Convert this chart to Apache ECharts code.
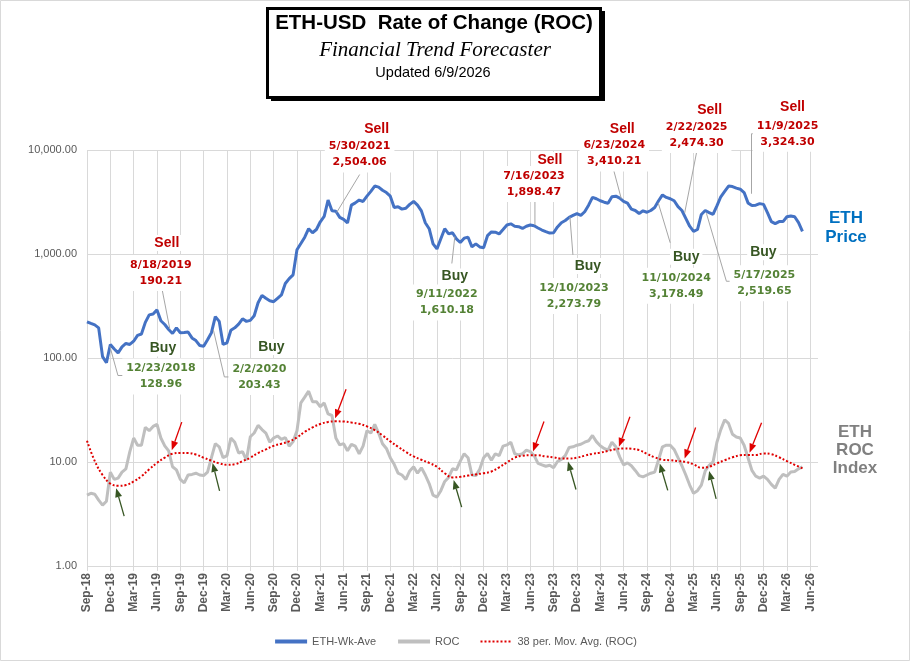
<!DOCTYPE html>
<html>
<head>
<meta charset="utf-8">
<title>ETH-USD Rate of Change (ROC)</title>
<script src="https://cdn.jsdelivr.net/npm/echarts@6/dist/echarts.min.js"></script>
<style>
  html, body { margin: 0; padding: 0; background: #fff; }
  #chart { width: 910px; height: 661px; }
</style>
</head>
<body>
<div id="chart"></div>
<script>
// x axis tick labels, one per quarter (every 6 half-month slots)
const tickLabels = ['Sep-18', 'Dec-18', 'Mar-19', 'Jun-19', 'Sep-19', 'Dec-19', 'Mar-20', 'Jun-20',
  'Sep-20', 'Dec-20', 'Mar-21', 'Jun-21', 'Sep-21', 'Dec-21', 'Mar-22', 'Jun-22',
  'Sep-22', 'Dec-22', 'Mar-23', 'Jun-23', 'Sep-23', 'Dec-23', 'Mar-24', 'Jun-24',
  'Sep-24', 'Dec-24', 'Mar-25', 'Jun-25', 'Sep-25', 'Dec-25', 'Mar-26', 'Jun-26']

// ETH weekly average price, read twice a month from Sep 2018
const ethPrice = [
  223, 215, 208, 195, 103, 90, 135, 122, 112, 128,
  138, 135, 145, 165, 170, 220, 260, 265, 290, 228,
  210, 188, 172, 195, 175, 176, 178, 156, 147, 132,
  130, 150, 175, 250, 225, 135, 140, 185, 195, 212,
  238, 225, 230, 255, 340, 400, 375, 355, 348, 375,
  404, 520, 580, 630, 1100, 1260, 1450, 1750, 1600, 1720,
  2040, 2300, 3300, 2600, 2580, 2250, 2150, 1990, 2950, 3100,
  3300, 3200, 3600, 4000, 4500, 4400, 4100, 3900, 3600, 2800,
  2850, 2700, 2750, 3000, 3200, 2950, 2600, 2000, 1750, 1250,
  1120, 1400, 1750, 1560, 1600, 1400, 1290, 1420, 1450, 1170,
  1250, 1170, 1150, 1500, 1630, 1620, 1560, 1720, 1900, 1950,
  1850, 1830, 1760, 1850, 1900, 1870, 1780, 1700, 1640, 1590,
  1600, 1820, 2000, 2100, 2250, 2350, 2450, 2350, 2550, 2950,
  3500, 3400, 3250, 3150, 3080, 3550, 3600, 3440, 3200, 3080,
  2700, 2620, 2450, 2600, 2520, 2620, 2800, 3250, 3700, 3500,
  3400, 3250, 2850, 2620, 2200, 1850, 1650, 1720, 2400, 2620,
  2500, 2400, 2900, 3550, 4000, 4500, 4450, 4300, 4200, 3900,
  3100, 2920, 2950, 3050, 3000, 2500, 2050, 1960, 2050, 2050,
  2280, 2320, 2280, 2000, 1650
]

// rate of change index, same dates
const rocValues = [
  4.8, 5.0, 4.9, 4.3, 3.85, 4.2, 8.0, 6.8, 7.0, 8.0,
  8.6, 12.5, 17.0, 14.5, 14.5, 21.5, 20.0, 22.0, 23.0, 17.0,
  14.3, 12.8, 9.0, 8.4, 6.8, 6.3, 7.5, 7.6, 7.8, 7.5,
  7.4, 8.0, 11.0, 15.0, 14.0, 11.0, 11.5, 17.0, 15.5, 12.2,
  12.6, 10.4, 17.5, 19.0, 22.5, 20.5, 19.0, 15.5, 17.0, 17.8,
  16.5, 17.2, 14.2, 15.7, 20, 37, 42, 48, 38, 38,
  34, 37, 29, 28, 17, 14.6, 15, 12.8, 14.8, 14.2,
  12, 14.2, 20, 19, 23, 19, 15, 13.5, 11, 9.5,
  7.8, 7.5, 6.8, 8.2, 9.0, 7.8, 8.8, 7.5, 6.2, 4.8,
  4.6, 5.3, 6.5, 7.1, 8.6, 8.4, 10.2, 12.0, 11.0, 7.5,
  7.4, 8.5, 11.0, 12.1, 10.4, 12.0, 11.5, 14.2, 14.6, 15.5,
  12.0, 11.7, 12.0, 13.0, 12.6, 11.5, 9.7, 9.4, 9.1, 9.3,
  8.8, 10.1, 10.6, 11.5, 13.8, 14.0, 14.5, 14.8, 15.5, 16.0,
  18.0, 15.7, 14.3, 13.5, 13.0, 15.5, 14.0, 11.2, 9.4, 9.8,
  9.2, 8.3, 7.4, 7.2, 7.5, 7.8, 8.0, 10.5, 14.0, 14.5,
  14.5, 13.2, 11.0, 9.2, 7.5, 6.0, 5.0, 5.3, 6.0, 8.2,
  9.3, 10.0, 15.5, 20.5, 25.5, 23.5, 18.5, 17.4, 17.0, 14.5,
  11.0, 8.3, 7.3, 7.0, 7.3, 6.8, 6.1, 5.6, 6.8, 7.6,
  7.3, 8.0, 8.1, 8.6, 9.0
]

// 38 period moving average of ROC, one reading per month
const rocAvgMonthly = [
  16, 10.2, 7.5, 6.2, 5.9, 6.0, 6.5, 7.3, 8.5, 9.8,
  11.0, 12.0, 12.2, 12.2, 11.8, 11.0, 10.3, 9.7, 9.4, 9.5,
  10.2, 11.0, 12.2, 13.2, 14.3, 15.0, 15.8, 17.2, 19.5, 21.5,
  23.2, 24.3, 24.6, 24.5, 24.0, 23.3, 22.0, 20.3, 18.0, 15.8,
  14.0, 12.5, 11.3, 10.5, 9.8, 9.0, 7.8, 7.1, 7.2, 7.4,
  7.6, 7.8, 8.1, 8.9, 9.9, 11.0, 11.5, 11.6, 11.6, 11.3,
  11.1, 10.8, 10.8, 11.0, 11.5, 12.0, 12.3, 12.8, 13.3, 13.5,
  13.4, 13.0, 12.0, 11.1, 10.5, 10.4, 10.2, 10.0, 9.5, 8.8,
  9.0, 9.7, 10.4, 11.1, 11.6, 11.7, 11.7, 12.1, 11.9, 11.1,
  10.2, 9.4, 8.7
]

// signals: at = half-month slot, price = annotated value, roc = where the arrow points
const sellSignals = [
  { date: '8/18/2019', price: 190.21, label: '190.21', at: 21.3, arrowAt: 21.8, roc: 13.0 },
  { date: '5/30/2021', price: 2504.06, label: '2,504.06', at: 64.2, arrowAt: 63.8, roc: 26.3 },
  { date: '7/16/2023', price: 1898.47, label: '1,898.47', at: 115.2, arrowAt: 114.7, roc: 12.6 },
  { date: '6/23/2024', price: 3410.21, label: '3,410.21', at: 137.4, arrowAt: 136.8, roc: 14.0 },
  { date: '2/22/2025', price: 2474.30, label: '2,474.30', at: 153.7, arrowAt: 153.7, roc: 10.8 },
  { date: '11/9/2025', price: 3324.30, label: '3,324.30', at: 170.9, arrowAt: 170.4, roc: 12.3 }
]
const buySignals = [
  { date: '12/23/2018', price: 128.96, label: '128.96', at: 5.9, arrowAt: 7.5, roc: 5.6 },
  { date: '2/2/2020', price: 203.43, label: '203.43', at: 32.5, arrowAt: 32.3, roc: 9.8 },
  { date: '9/11/2022', price: 1610.18, label: '1,610.18', at: 94.6, arrowAt: 94.3, roc: 6.7 },
  { date: '12/10/2023', price: 2273.79, label: '2,273.79', at: 124.2, arrowAt: 123.7, roc: 10.1 },
  { date: '11/10/2024', price: 3178.49, label: '3,178.49', at: 146.9, arrowAt: 147.3, roc: 9.7 },
  { date: '5/17/2025', price: 2519.65, label: '2,519.65', at: 159.3, arrowAt: 160, roc: 8.2 }
]

// label layout around each signal (pixel offsets from the price point)
const sellLayout = [
  { head: [-3, -86], block: [-9, -56], leader: [[-8, -41], [0, 0]] },
  { head: [40, -83], block: [23, -58], leader: [[23, -38], [0, 0]] },
  { head: [15, -65], block: [-1, -41], leader: [[0, -25], [0, 0]] },
  { head: [1, -69], block: [-7, -45], leader: [[-8, -30], [0, 0]] },
  { head: [25, -103], block: [12, -78], leader: [[12, -61], [0, 0]] },
  { head: [41, -93], block: [36, -66], leader: [[5, -66], [0, -66], [0, -6]] }
]
const buyLayout = [
  { head: [53, 2], block: [51, 30], leader: [[0, 0], [8, 29], [13, 29]] },
  { head: [58, 21], block: [46, 51], leader: [[0, 4], [11, 51], [17, 51]] },
  { head: [0, 44], block: [-8, 70], leader: [[0, 4], [-3, 31]] },
  { head: [18, 49], block: [4, 79], leader: [[0, 0], [3, 38]] },
  { head: [28, 55], block: [18, 84], leader: [[0, 1], [12, 41]] },
  { head: [57, 40], block: [58, 71], leader: [[0, 1], [20, 69], [25, 69]] }
]
const sellArrowTail = [[10, -28], [11, -29], [11, -30], [11, -30], [11, -31], [12, -30]]
const buyArrowTail = [[8, 28], [7, 28], [8, 27], [8, 28], [8, 27], [7, 28]]

// half-month slots from Sep 2018 on
const monthNames = ['Jan', 'Feb', 'Mar', 'Apr', 'May', 'Jun', 'Jul', 'Aug', 'Sep', 'Oct', 'Nov', 'Dec']
const categories = []
for (let k = 0; k < 189; k++) {
  const m = 8 + Math.floor(k / 2)
  const yr = 2018 + Math.floor(m / 12)
  categories.push(monthNames[m % 12] + ' ' + (k % 2 ? '16' : '1') + ', ' + yr)
}
const rocAvg = categories.map(() => null)
rocAvgMonthly.forEach((v, k) => { rocAvg[k * 2] = v })

const FONT = '"Liberation Sans", Arial, sans-serif'
const RED = '#C00000'
const DARK_GREEN = '#375623'
const GREEN = '#548235'
const quarterly = (idx) => idx % 6 === 0

const chart = echarts.init(document.getElementById('chart'))

chart.setOption({
  animation: false,
  backgroundColor: '#fff',
  textStyle: { fontFamily: FONT },
  grid: { left: 87, right: 92, top: 150, bottom: 95 },
  legend: {
    top: 631,
    left: 'center',
    itemWidth: 32,
    itemHeight: 12,
    itemGap: 20,
    itemStyle: { opacity: 0 },
    textStyle: { fontSize: 11, color: '#595959' },
    data: [
      { name: 'ETH-Wk-Ave', lineStyle: { width: 4 } },
      { name: 'ROC', lineStyle: { width: 4 } },
      { name: '38 per. Mov. Avg. (ROC)' }
    ]
  },
  xAxis: {
    type: 'category',
    data: categories,
    boundaryGap: false,
    axisLine: { show: false },
    axisTick: { show: true, interval: quarterly, length: 5, lineStyle: { color: '#D9D9D9' } },
    axisLabel: {
      interval: quarterly,
      rotate: 90,
      margin: 7,
      fontSize: 12,
      fontWeight: 'bold',
      color: '#595959',
      formatter: (val, idx) => tickLabels[idx / 6] || ''
    },
    splitLine: { show: true, interval: quarterly, lineStyle: { color: '#D9D9D9', width: 1 } }
  },
  yAxis: {
    type: 'log',
    logBase: 10,
    min: 1,
    max: 10000,
    axisLine: { show: false },
    axisTick: { show: false },
    axisLabel: {
      fontSize: 11,
      color: '#595959',
      margin: 10,
      formatter: (v) => v.toLocaleString('en-US', { minimumFractionDigits: 2, maximumFractionDigits: 2 })
    },
    splitLine: { lineStyle: { color: '#D9D9D9', width: 1 } }
  },
  series: [
    {
      name: 'ETH-Wk-Ave',
      type: 'line',
      data: ethPrice,
      symbol: 'none',
      z: 3,
      lineStyle: { color: '#4472C4', width: 3 },
      itemStyle: { color: '#4472C4' }
    },
    {
      name: 'ROC',
      type: 'line',
      data: rocValues,
      symbol: 'none',
      z: 2,
      lineStyle: { color: '#BFBFBF', width: 3 },
      itemStyle: { color: '#BFBFBF' }
    },
    {
      name: '38 per. Mov. Avg. (ROC)',
      type: 'line',
      data: rocAvg,
      connectNulls: true,
      smooth: 0.4,
      symbol: 'none',
      z: 4,
      lineStyle: { color: '#E00000', width: 2, type: [2, 2] },
      itemStyle: { color: '#E00000' }
    }
  ]
})

// pixel of a (possibly fractional) slot and value
function toPx(i, v) {
  const i0 = Math.floor(i)
  const i1 = Math.min(i0 + 1, categories.length - 1)
  const p0 = chart.convertToPixel({ gridIndex: 0 }, [i0, v])
  const p1 = chart.convertToPixel({ gridIndex: 0 }, [i1, v])
  return [p0[0] + (p1[0] - p0[0]) * (i - i0), p0[1]]
}

function arrow(head, tail, color) {
  const dx = head[0] - tail[0]
  const dy = head[1] - tail[1]
  const len = Math.hypot(dx, dy)
  const ux = dx / len
  const uy = dy / len
  const hl = 9
  const hw = 3.5
  const bx = head[0] - ux * hl
  const by = head[1] - uy * hl
  return [
    { type: 'line', z: 50, shape: { x1: tail[0], y1: tail[1], x2: bx, y2: by }, style: { stroke: color, lineWidth: 1.3 } },
    { type: 'polygon', z: 50, shape: { points: [head, [bx - uy * hw, by + ux * hw], [bx + uy * hw, by - ux * hw]] }, style: { fill: color } }
  ]
}

function signalGraphics(sig, lay, tail, kind) {
  const p = toPx(sig.at, sig.price)
  const out = []
  out.push({
    type: 'polyline',
    z: 40,
    shape: { points: lay.leader.map(o => [p[0] + o[0], p[1] + o[1]]) },
    style: { stroke: '#A6A6A6', lineWidth: 1, fill: null }
  })
  out.push({
    type: 'text',
    z: 60,
    x: p[0] + lay.head[0],
    y: p[1] + lay.head[1],
    style: {
      text: kind === 'sell' ? 'Sell' : 'Buy',
      font: 'bold 14px ' + FONT,
      fill: kind === 'sell' ? RED : DARK_GREEN,
      align: 'center',
      verticalAlign: 'middle',
      backgroundColor: '#fff',
      padding: [1, 3]
    }
  })
  out.push({
    type: 'text',
    z: 60,
    x: p[0] + lay.block[0],
    y: p[1] + lay.block[1],
    style: {
      text: sig.date + '\n' + sig.label,
      font: 'bold 11px "DejaVu Sans", sans-serif',
      lineHeight: 16,
      fill: kind === 'sell' ? RED : GREEN,
      align: 'center',
      verticalAlign: 'middle',
      backgroundColor: '#fff',
      padding: [2, 4]
    }
  })
  const h = toPx(sig.arrowAt, sig.roc)
  const t = [h[0] + tail[0], h[1] + tail[1]]
  return out.concat(arrow(h, t, kind === 'sell' ? '#E00000' : DARK_GREEN))
}

let graphics = [
  { type: 'rect', z: 0, shape: { x: 0.5, y: 0.5, width: 909, height: 660 }, style: { fill: null, stroke: '#D9D9D9', lineWidth: 1 } },
  { type: 'rect', z: 70, shape: { x: 271, y: 11, width: 334, height: 90 }, style: { fill: '#000' } },
  { type: 'rect', z: 71, shape: { x: 267.5, y: 8.5, width: 333, height: 89 }, style: { fill: '#fff', stroke: '#000', lineWidth: 3 } },
  { type: 'text', z: 72, x: 434, y: 23, style: { text: 'ETH-USD  Rate of Change (ROC)', font: 'bold 20.5px ' + FONT, fill: '#000', align: 'center', verticalAlign: 'middle' } },
  { type: 'text', z: 72, x: 435, y: 50, style: { text: 'Financial Trend Forecaster', font: 'italic 21px "Liberation Serif", serif', fill: '#000', align: 'center', verticalAlign: 'middle' } },
  { type: 'text', z: 72, x: 433, y: 73, style: { text: 'Updated 6/9/2026', font: '14.5px ' + FONT, fill: '#000', align: 'center', verticalAlign: 'middle' } },
  { type: 'text', z: 72, x: 846, y: 228, style: { text: 'ETH\nPrice', font: 'bold 17px ' + FONT, lineHeight: 19, fill: '#0070C0', align: 'center', verticalAlign: 'middle' } },
  { type: 'text', z: 72, x: 855, y: 450, style: { text: 'ETH\nROC\nIndex', font: 'bold 17px ' + FONT, lineHeight: 18, fill: '#808080', align: 'center', verticalAlign: 'middle' } }
]
sellSignals.forEach((s, k) => { graphics = graphics.concat(signalGraphics(s, sellLayout[k], sellArrowTail[k], 'sell')) })
buySignals.forEach((s, k) => { graphics = graphics.concat(signalGraphics(s, buyLayout[k], buyArrowTail[k], 'buy')) })

chart.setOption({ graphic: graphics })
</script>
</body>
</html>
